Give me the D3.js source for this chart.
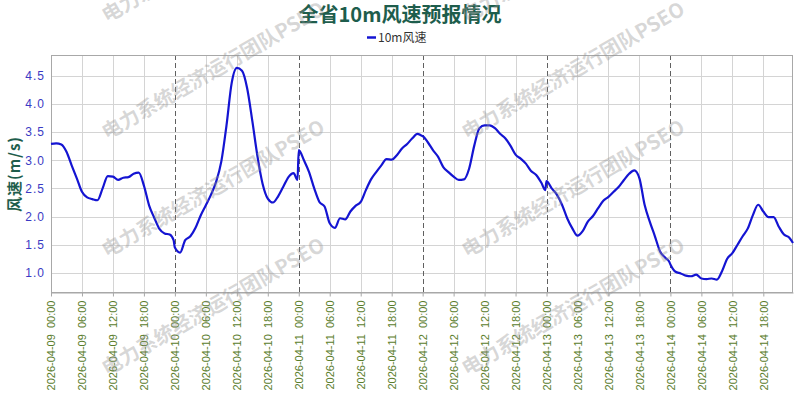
<!DOCTYPE html>
<html>
<head>
<meta charset="utf-8">
<script src="https://cdn.jsdelivr.net/npm/d3@7"></script>
<style>
  html, body { margin: 0; padding: 0; background: #fff; }
  svg { display: block; }
</style>
</head>
<body>
<svg id="chart" width="800" height="400"></svg>
<script>
// ---------- data ----------
const chartTitle = "全省10m风速预报情况";
const seriesName = "10m风速";
const yAxisTitle = "风速(m/s)";
const watermarkText = "电力系统经济运行团队PSEO";
const startTime = "2026-04-09 00:00";
const endTime = "2026-04-14 23:45";
// hourly values 00:00 .. 23:00 for each day
const day0409 = [3.29,3.30,3.28,3.15,2.91,2.68,2.44,2.34,2.31,2.29,2.50,2.72,2.71,2.65,2.69,2.70,2.76,2.78,2.55,2.20,1.98,1.78,1.70,1.68];
const day0410 = [1.45,1.36,1.58,1.65,1.80,2.02,2.20,2.39,2.62,2.98,3.62,4.37,4.64,4.59,4.28,3.70,3.07,2.58,2.32,2.25,2.36,2.53,2.70,2.77];
const day0411 = [3.18,3.00,2.79,2.50,2.26,2.18,1.88,1.80,1.97,1.95,2.09,2.19,2.26,2.47,2.66,2.79,2.91,3.02,3.01,3.09,3.21,3.29,3.39,3.47];
const day0412 = [3.43,3.32,3.18,3.06,2.88,2.79,2.71,2.65,2.66,2.85,3.26,3.57,3.62,3.62,3.57,3.47,3.39,3.26,3.10,3.03,2.94,2.81,2.74,2.60];
const day0413 = [2.63,2.50,2.39,2.21,1.97,1.79,1.66,1.74,1.91,2.01,2.15,2.28,2.35,2.44,2.53,2.65,2.76,2.82,2.68,2.21,1.91,1.65,1.38,1.27];
const day0414 = [1.15,1.02,0.99,0.95,0.94,0.97,0.90,0.89,0.90,0.88,1.03,1.25,1.35,1.50,1.65,1.79,2.03,2.21,2.09,1.99,1.99,1.82,1.68,1.63];
// value at 23:45 of each day
const dayEndValues = [1.58, 2.65, 3.44, 2.47, 1.20, 1.53];
const yTicks = [1.0, 1.5, 2.0, 2.5, 3.0, 3.5, 4.0, 4.5];
const yDomain = [0.66, 4.87];

// ---------- build ----------
const parse = d3.timeParse("%Y-%m-%d %H:%M");
const t0 = parse(startTime);
const t1 = parse(endTime);
const days = [day0409, day0410, day0411, day0412, day0413, day0414];
const points = [];
days.forEach((vals, d) => {
  vals.forEach((v, h) => {
    points.push({ t: d3.timeHour.offset(t0, d * 24 + h), v });
  });
  points.push({ t: d3.timeMinute.offset(t0, (d * 24 + 23) * 60 + 45), v: dayEndValues[d] });
});

const W = 800, H = 400;
const m = { left: 51, right: 7, top: 55, bottom: 108 };
const x = d3.scaleTime().domain([t0, t1]).range([m.left, W - m.right]);
const y = d3.scaleLinear().domain(yDomain).range([H - m.bottom, m.top]);

const svg = d3.select("#chart");
const plotTop = m.top, plotBottom = H - m.bottom, plotLeft = m.left, plotRight = W - m.right;

const xTicks = d3.timeHour.every(6).range(t0, d3.timeMinute.offset(t1, 1));

// grid
const grid = svg.append("g");
grid.selectAll("line.hg").data(yTicks).join("line")
  .attr("x1", plotLeft).attr("x2", plotRight)
  .attr("y1", d => Math.round(y(d)) + 0.5).attr("y2", d => Math.round(y(d)) + 0.5)
  .attr("stroke", "#d4d4d4").attr("stroke-width", 1);
grid.selectAll("line.vg").data(xTicks.filter(t => t.getHours() !== 0)).join("line")
  .attr("x1", d => Math.round(x(d)) + 0.5).attr("x2", d => Math.round(x(d)) + 0.5)
  .attr("y1", plotTop).attr("y2", plotBottom)
  .attr("stroke", "#d4d4d4").attr("stroke-width", 1);
grid.selectAll("line.dg").data(xTicks.filter(t => t.getHours() === 0 && +t !== +t0)).join("line")
  .attr("x1", d => Math.round(x(d)) + 0.5).attr("x2", d => Math.round(x(d)) + 0.5)
  .attr("y1", plotTop).attr("y2", plotBottom)
  .attr("stroke", "#606060").attr("stroke-width", 1).attr("stroke-dasharray", "5,3");

// border
svg.append("rect")
  .attr("x", plotLeft + 0.5).attr("y", plotTop + 0.5)
  .attr("width", plotRight - plotLeft - 1).attr("height", plotBottom - plotTop)
  .attr("fill", "none").attr("stroke", "#a8a8a8").attr("stroke-width", 1);

// x axis
const xAxis = d3.axisBottom(x).tickValues(xTicks)
  .tickFormat(d3.timeFormat("%Y-%m-%d  %H:%M")).tickSize(4).tickSizeOuter(0);
const gx = svg.append("g").attr("transform", `translate(0,${plotBottom + 0.5})`).call(xAxis);
gx.select(".domain").attr("stroke", "#a8a8a8");
gx.selectAll(".tick line").attr("stroke", "#a8a8a8");
gx.selectAll(".tick text")
  .attr("transform", "rotate(-90)")
  .attr("text-anchor", "end")
  .attr("x", -8).attr("y", 0).attr("dy", "0.35em")
  .style("white-space", "pre")
  .attr("fill", "#5a7d2c")
  .attr("font-family", "Liberation Sans, Arial, sans-serif")
  .attr("font-size", 11);

// y axis
const yAxis = d3.axisLeft(y).tickValues(yTicks).tickFormat(d3.format(".1f")).tickSize(0).tickPadding(6);
const gy = svg.append("g").attr("transform", `translate(${plotLeft},0)`).call(yAxis);
gy.select(".domain").remove();
gy.selectAll(".tick text")
  .attr("fill", "#3a3ac4")
  .attr("font-family", "Liberation Sans, Arial, sans-serif")
  .attr("font-size", 12)
  .attr("letter-spacing", "1px");

// line
const line = d3.line().x(d => x(d.t)).y(d => y(d.v)).curve(d3.curveMonotoneX);
svg.append("path").datum(points)
  .attr("d", line)
  .attr("fill", "none").attr("stroke", "#1414d2").attr("stroke-width", 2.2)
  .attr("stroke-linejoin", "round");

// title
svg.append("text").attr("x", 400).attr("y", 22)
  .attr("text-anchor", "middle")
  .attr("font-family", "Noto Sans CJK SC, sans-serif").attr("font-weight", "bold")
  .attr("font-size", 20).attr("fill", "#1e5d4c")
  .text(chartTitle);

// legend
svg.append("line").attr("x1", 367).attr("x2", 376).attr("y1", 37.5).attr("y2", 37.5)
  .attr("stroke", "#1414d2").attr("stroke-width", 2.5);
svg.append("text").attr("x", 378).attr("y", 42)
  .attr("font-family", "Noto Sans CJK SC, sans-serif")
  .attr("font-size", 12).attr("fill", "#333")
  .text(seriesName);

// y title
svg.append("text").attr("transform", "translate(20,174) rotate(-90)")
  .attr("text-anchor", "middle")
  .attr("font-family", "Noto Sans CJK SC, sans-serif").attr("font-weight", "bold")
  .attr("font-size", 15).attr("fill", "#1e5d4c")
  .attr("letter-spacing", "1px")
  .text(yAxisTitle);

// watermark
const wmCols = [107, 467];
const wmRows = [23, 140, 258, 376];
const wm = svg.append("g").attr("pointer-events", "none");
wmCols.forEach(cx => wmRows.forEach(cy => {
  wm.append("text")
    .attr("transform", `translate(${cx},${cy}) rotate(-30)`)
    .attr("font-family", "Noto Sans CJK SC, sans-serif").attr("font-weight", "bold")
    .attr("font-size", 20).attr("fill", "rgba(150,150,150,0.38)")
    .text(watermarkText);
}));
</script>
</body>
</html>
